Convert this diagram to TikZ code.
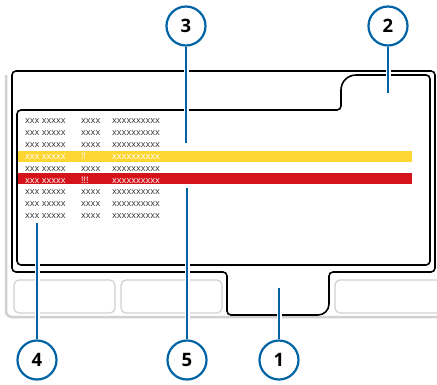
\documentclass[tikz,border=0pt]{standalone}
\usepackage{fontspec}
\setmainfont{Open Sans}
\usetikzlibrary{positioning}
\definecolor{callout}{RGB}{0,99,166}
\definecolor{warnyellow}{RGB}{253,214,51}
\definecolor{alarmred}{RGB}{212,19,27}
\definecolor{panelgray}{RGB}{208,208,208}
\pgfdeclarelayer{front}
\pgfsetlayers{main,front}

\begin{document}
\begin{tikzpicture}[x=1pt, y=-1pt,
    num/.style={circle, draw=callout, line width=2.2pt, fill=white, minimum size=39pt, inner sep=0pt, font=\fontsize{18.5}{18.5}\selectfont\bfseries},
    leader/.style={callout, line width=2pt, preaction={draw=white, line width=5pt}},
    cell/.style={anchor=west, inner sep=0pt, text height=1ex, text depth=0pt, font=\fontsize{9.1}{9}\selectfont},
    casing/.style={line width=1.6pt, rounded corners=4pt},
    softkey/.style={draw=panelgray, line width=1.2pt, rounded corners=5pt}
]
    \useasboundingbox (0,0) rectangle (437,384);

    % housing and soft keys
    \draw[panelgray, line width=2.5pt, rounded corners=6pt] (6,75) -- (6,317) -- (445,317);
    \draw[softkey] (14,280) rectangle (115,313);
    \draw[softkey] (121,280) rectangle (222,313);
    \draw[softkey] (335,280) rectangle (445,313);

    % display outline with tab
    \draw[casing] (12,272) -- (12,71) -- (435,71) -- (435,272) -- (329,272)
        [rounded corners=11pt] -- (329,315) [rounded corners=4pt] -- (227,315) -- (227,272) -- cycle;
    \draw[casing] (17,265) -- (17,110) -- (341,110)
        [rounded corners=15pt] -- (341,75) [rounded corners=4pt] -- (430,75) -- (430,265) -- cycle;

    % message list
    \fill[warnyellow] (18,151) rectangle (412,161.5);
    \fill[alarmred] (18,173) rectangle (412,184);
    \foreach \i/\m/\c in {1/xxxx/black!80, 2/xxxx/black!80, 3/xxxx/black!80,
                          4/!!/white, 5/xxxx/black!80, 6/!!!/white,
                          7/xxxx/black!80, 8/xxxx/black!80, 9/xxxx/black!80} {
        \node[cell, text=\c] (a\i) at (25,{109.3+11.85*\i}) {xxx xxxxx};
        \node[cell, text=\c] (b\i) at (81,{109.3+11.85*\i}) {\m};
        \node[cell, text=\c] (c\i) at (112,{109.3+11.85*\i}) {xxxxxxxxxx};
    }

    % callouts
    \begin{pgfonlayer}{front}
        \node[num] (n3) at (186,26) {3};
        \node[num] (n2) at (388,26) {2};
        \node[num] (n4) at (37,360) {4};
        \node[num] (n5) at (187,360) {5};
        \node[num] (n1) at (279,360) {1};
    \end{pgfonlayer}
    \coordinate (t3) at (186,143);
    \coordinate (t2) at (388,93);
    \coordinate (t4) at (37,223);
    \coordinate (t5) at (187,188);
    \coordinate (t1) at (279,288);

    \draw[leader] (n3) -- (t3);
    \draw[leader] (n2) -- (t2);
    \draw[leader] (n4) -- (t4);
    \draw[leader] (n5) -- (t5);
    \draw[leader] (n1) -- (t1);
\end{tikzpicture}
\end{document}
